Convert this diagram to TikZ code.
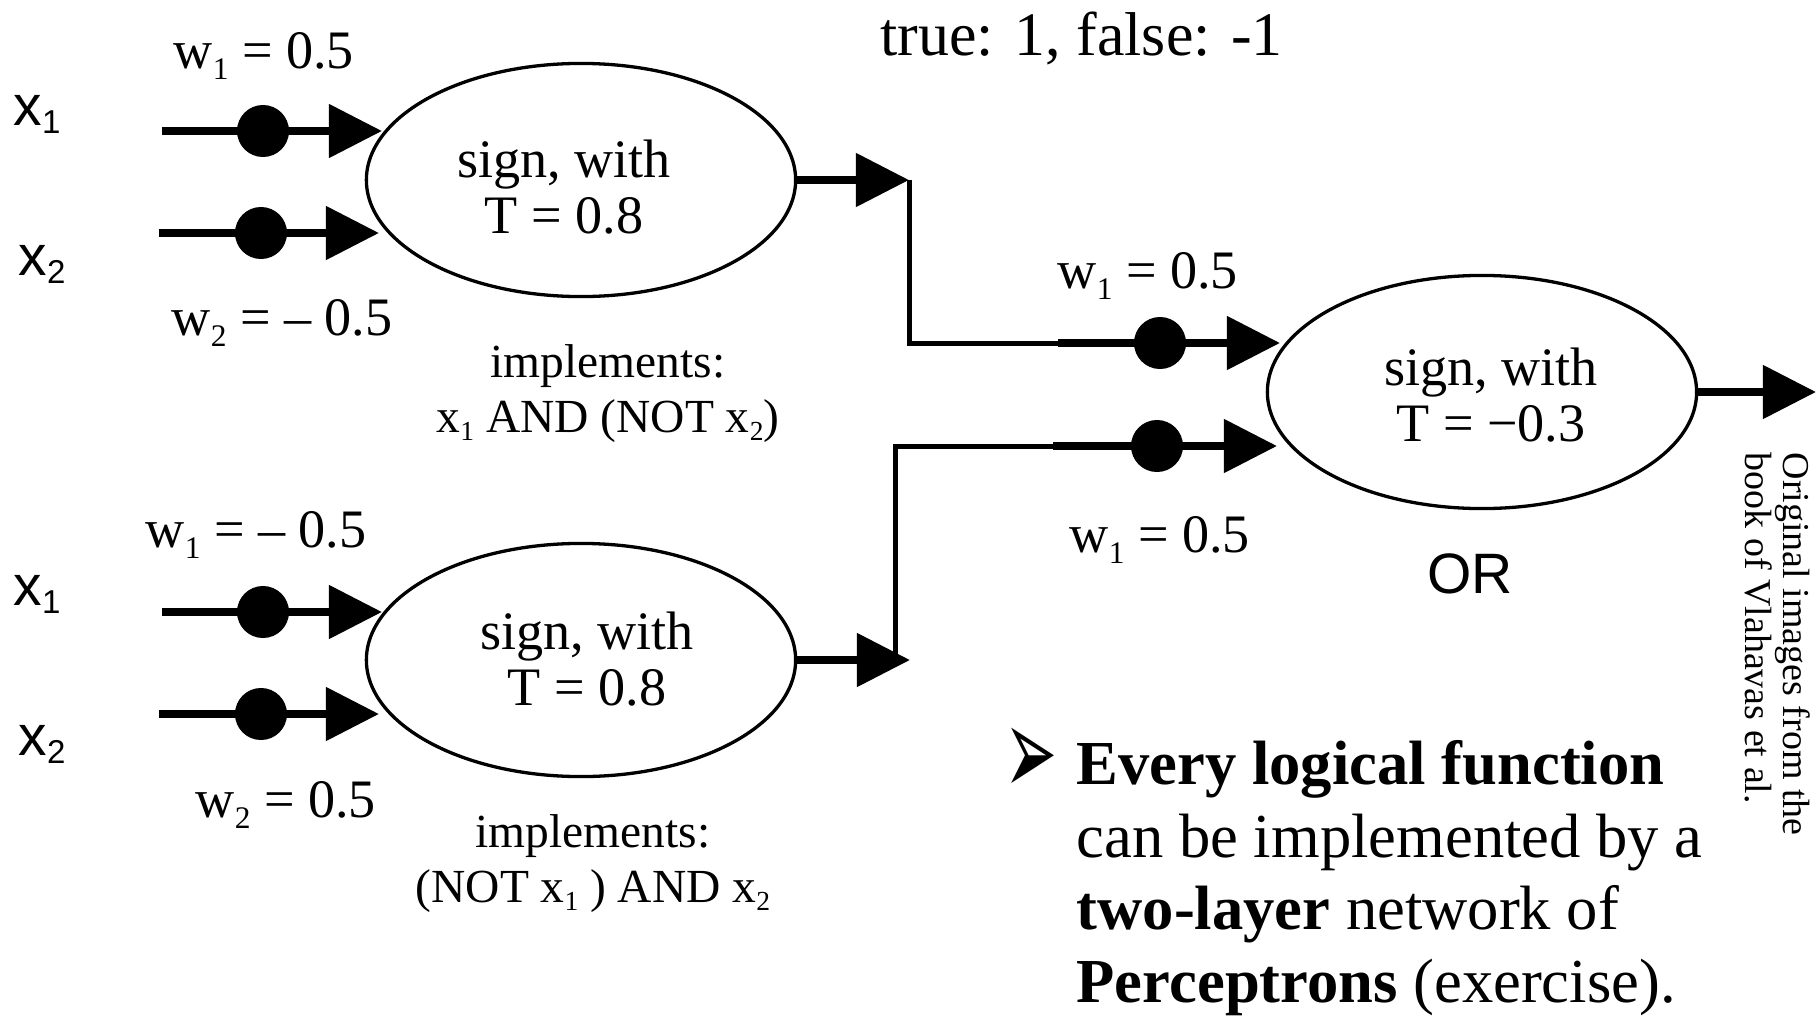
\documentclass[tikz,border=0pt]{standalone}
\usepackage{fontspec}
\setmainfont{Liberation Serif}
\setsansfont{Liberation Sans}
\newfontfamily\symfont{DejaVu Sans}
\usepackage{graphicx}
\usetikzlibrary{arrows.meta,shapes.geometric}
\newcommand{\lo}[2][0.15em]{\raisebox{-#1}{\scalebox{0.58}{#2}}}

\tikzset{
  neuron/.style={draw, ellipse, line width=0.33mm, minimum width=4.29cm, minimum height=2.33cm},
  wdot/.style={circle, fill=black, inner sep=0pt, minimum size=5.2mm},
  wire/.style={line width=0.8mm, -{Triangle[length=5.3mm, width=5.2mm]}},
  link/.style={line width=0.5mm},
  inlabel/.style={anchor=base west, inner sep=0pt, font=\sffamily\fontsize{16.2}{18}\selectfont},
  wlabel/.style={anchor=base west, inner sep=0pt, font=\fontsize{15.4}{18}\selectfont},
  signtext/.style={align=center, inner sep=0pt, font=\fontsize{15.4}{15.93}\selectfont},
  impltext/.style={align=center, inner sep=0pt, font=\fontsize{13.5}{15.65}\selectfont}
}

\begin{document}
\begin{tikzpicture}[x=0.01cm, y=-0.01cm]
				\useasboundingbox (0,0) rectangle (1818,1015);
				
				\node[anchor=base west, inner sep=0pt, font=\fontsize{17.6}{20}\selectfont] (truth) at (880,55) {true: 1, false: -1};
				
				% first layer, upper neuron
				\node[neuron] (h1) at (581,180) {};
				\node[signtext] (h1txt) at (564,187) {sign, with\\T = 0.8};
				\node[impltext] (h1impl) at (608,394) {implements:\\x\lo{1} AND (NOT x\lo{2})};
				
				\node[inlabel] (x11) at (13,125) {x\lo{1}};
				\node[inlabel] (x12) at (18,275) {x\lo{2}};
				\node[wlabel] (w11) at (173,68) {w\lo[0.22em]{1} = 0.5};
				\node[wlabel] (w12) at (171,335) {w\lo[0.22em]{2} = – 0.5};
				
				\coordinate (a11) at (162,131);
				\node[wdot] (d11) at (263,131) {};
				\coordinate (t11) at (382,131);
				\draw[wire] (a11) -- (d11.center) -- (t11);
				
				\coordinate (a12) at (159,233);
				\node[wdot] (d12) at (261,233) {};
				\coordinate (t12) at (379,233);
				\draw[wire] (a12) -- (d12.center) -- (t12);
				
				% first layer, lower neuron
				\node[neuron] (h2) at (581,660) {};
				\node[signtext] (h2txt) at (587,659) {sign, with\\T = 0.8};
				\node[impltext] (h2impl) at (593,864) {implements:\\(NOT x\lo{1} ) AND x\lo{2}};
				
				\node[inlabel] (x21) at (13,605) {x\lo{1}};
				\node[inlabel] (x22) at (18,755) {x\lo{2}};
				\node[wlabel] (w21) at (145,547) {w\lo[0.22em]{1} = – 0.5};
				\node[wlabel] (w22) at (195,817) {w\lo[0.22em]{2} = 0.5};
				
				\coordinate (a21) at (162,612);
				\node[wdot] (d21) at (263,612) {};
				\coordinate (t21) at (382,612);
				\draw[wire] (a21) -- (d21.center) -- (t21);
				
				\coordinate (a22) at (159,714);
				\node[wdot] (d22) at (261,714) {};
				\coordinate (t22) at (379,714);
				\draw[wire] (a22) -- (d22.center) -- (t22);
				
				% second layer: OR
				\node[neuron] (h3) at (1482,392) {};
				\node[signtext] (h3txt) at (1491,395) {sign, with\\T = −0.3};
				\node[anchor=base, inner sep=0pt, font=\sffamily\fontsize{16.2}{18}\selectfont] (orlbl) at (1470,593) {OR};
				\node[wlabel] (w31) at (1057,288) {w\lo[0.22em]{1} = 0.5};
				\node[wlabel] (w32) at (1069,552) {w\lo[0.22em]{1} = 0.5};
				
				\coordinate (o1) at (909,180);
				\coordinate (o2) at (910,660);
				\draw[wire] (h1.east) -- (o1);
				\draw[wire] (h2.east) -- (o2);
				
				\coordinate (b1) at (1058,343);
				\coordinate (b2) at (1053,446);
				\draw[link] (o1) |- (b1);
				\draw[link] ([xshift=-4]o2) |- (b2);
				
				\node[wdot] (e1) at (1160,343) {};
				\coordinate (t31) at (1280,343);
				\draw[wire] (b1) -- (e1.center) -- (t31);
				\node[wdot] (e2) at (1157,446) {};
				\coordinate (t32) at (1277,446);
				\draw[wire] (b2) -- (e2.center) -- (t32);
				
				\coordinate (out) at (1816,392);
				\draw[wire] (h3.east) -- (out);
				
				% side note and claim
				\node[rotate=-90, anchor=north west, align=left, inner sep=0pt, font=\fontsize{10.8}{10.8}\selectfont] (credit) at (1811,452) {Original images from the\\book of Vlahavas et al.};
				
				\node[inner sep=0pt, font=\symfont\fontsize{18}{18}\selectfont] (bullet) at (1031,762) {\scalebox{1}[2]{➢}};
				\node[anchor=north west, align=left, inner sep=0pt, font=\fontsize{17.8}{20.6}\selectfont] (claim) at (1076,740) {\textbf{Every logical function}\\can be implemented by a\\\textbf{two-layer} network of\\\textbf{Perceptrons} (exercise).};
			\end{tikzpicture}
\end{document}
